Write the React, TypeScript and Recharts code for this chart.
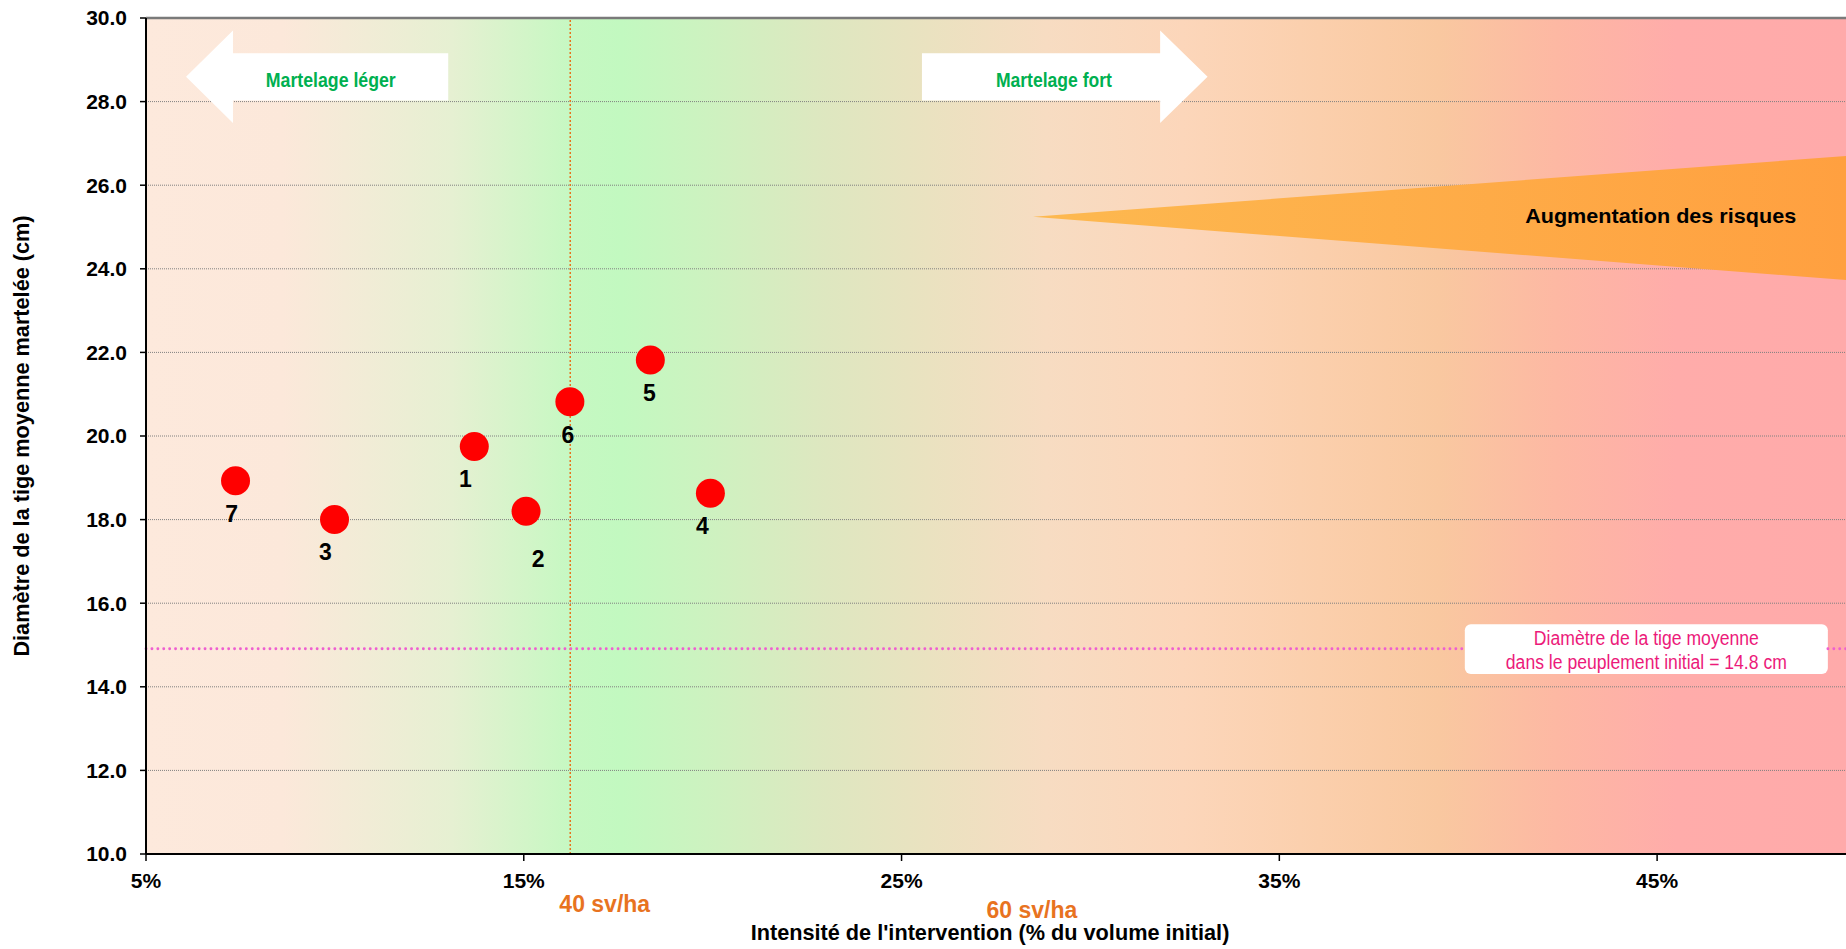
import React from 'react';
import {
  ScatterChart,
  Scatter,
  XAxis,
  YAxis,
  CartesianGrid,
  ReferenceLine,
  ReferenceArea,
} from 'recharts';

// ---------- data ----------
const pointIds = ['1', '2', '3', '4', '5', '6', '7'];
const intensityPct = [13.69, 15.06, 9.99, 19.94, 18.35, 16.22, 7.37];
const diameterCm = [19.75, 18.2, 18.0, 18.63, 21.82, 20.82, 18.93];

const xTicks = [5, 15, 25, 35, 45];
const yTicks = [10, 12, 14, 16, 18, 20, 22, 24, 26, 28, 30];
const xDomain: [number, number] = [5, 50];
const yDomain: [number, number] = [10, 30];

const initialDiameterLevel = 14.91; // where the dotted line sits in the picture
const initialDiameterText = '14.8';
const sv40Position = 16.23;
const sv60Position = 28.45;

const data = pointIds.map((id, i) => ({ id, x: intensityPct[i], y: diameterCm[i] }));

// ---------- styles ----------
const FONT = "'Liberation Sans', Arial, Helvetica, sans-serif";
const NARROW = "'Liberation Sans Narrow', 'Arial Narrow', 'Liberation Sans', sans-serif";

// label offsets (text centre-x, baseline) relative to each point
const labelOffset: Record<string, [number, number]> = {
  '1': [-9, 41],
  '2': [12, 56],
  '3': [-9, 40],
  '4': [-8, 41],
  '5': [-1, 41],
  '6': [-2, 41],
  '7': [-4, 41],
};

const renderPoint = (p: any) => {
  const { cx, cy, payload } = p;
  const off = labelOffset[payload.id] || [0, 41];
  return (
    <g>
      <circle cx={cx} cy={cy} r={14.5} fill="#ff0000" />
      <text
        x={cx + off[0]}
        y={cy + off[1]}
        textAnchor="middle"
        fontFamily={FONT}
        fontWeight={700}
        fontSize={23}
        fill="#000"
      >
        {payload.id}
      </text>
    </g>
  );
};

const pts = (arr: number[][]) => arr.map((q) => q.join(',')).join(' ');

const LeftArrowShape = (p: any) => {
  const { x, y, width: w, height: h } = p;
  const hb = x + w * 0.179;
  const bt = y + h * 0.245;
  const bb = y + h * 0.758;
  return (
    <g>
      <polygon
        points={pts([[x, y + h / 2], [hb, y], [hb, bt], [x + w, bt], [x + w, bb], [hb, bb], [hb, y + h]])}
        fill="#ffffff"
      />
      <text
        x={x + w * 0.552}
        y={y + h * 0.613}
        textAnchor="middle"
        fontFamily={NARROW}
        fontWeight={700}
        fontSize={21}
        fill="#00b050"
        textLength={130}
        lengthAdjust="spacingAndGlyphs"
      >
        Martelage léger
      </text>
    </g>
  );
};

const RightArrowShape = (p: any) => {
  const { x, y, width: w, height: h } = p;
  const hb = x + w * 0.834;
  const bt = y + h * 0.245;
  const bb = y + h * 0.758;
  return (
    <g>
      <polygon
        points={pts([[x, bt], [hb, bt], [hb, y], [x + w, y + h / 2], [hb, y + h], [hb, bb], [x, bb]])}
        fill="#ffffff"
      />
      <text
        x={x + w * 0.462}
        y={y + h * 0.613}
        textAnchor="middle"
        fontFamily={NARROW}
        fontWeight={700}
        fontSize={21}
        fill="#00b050"
        textLength={116}
        lengthAdjust="spacingAndGlyphs"
      >
        Martelage fort
      </text>
    </g>
  );
};

const RiskShape = (p: any) => {
  const { x, y, width: w, height: h } = p;
  return (
    <g>
      <polygon points={pts([[x, y + h * 0.49], [x + w, y], [x + w, y + h]])} fill="url(#riskGrad)" />
      <text
        x={x + w * 0.772}
        y={y + h * 0.543}
        textAnchor="middle"
        fontFamily={FONT}
        fontWeight={700}
        fontSize={21}
        fill="#000"
        textLength={271}
        lengthAdjust="spacingAndGlyphs"
      >
        Augmentation des risques
      </text>
    </g>
  );
};

const InitialBoxShape = (p: any) => {
  const { x, y, width: w, height: h } = p;
  const cx = x + w / 2;
  return (
    <g>
      <rect x={x} y={y} width={w} height={h} rx={6} ry={6} fill="#ffffff" />
      <text
        x={cx}
        y={y + h * 0.41}
        textAnchor="middle"
        fontFamily={NARROW}
        fontSize={20}
        fill="#ec1a7a"
        textLength={225}
        lengthAdjust="spacingAndGlyphs"
      >
        Diamètre de la tige moyenne
      </text>
      <text
        x={cx}
        y={y + h * 0.905}
        textAnchor="middle"
        fontFamily={NARROW}
        fontSize={20}
        fill="#ec1a7a"
        textLength={281}
        lengthAdjust="spacingAndGlyphs"
      >
        {`dans le peuplement initial = ${initialDiameterText} cm`}
      </text>
    </g>
  );
};

const XTitle = (p: any) => {
  const vb = p.viewBox || {};
  return (
    <text
      x={vb.x + vb.width / 2 - 6}
      y={vb.y + 86}
      textAnchor="middle"
      fontFamily={FONT}
      fontWeight={700}
      fontSize={21.7}
      fill="#000"
    >
      Intensité de l'intervention (% du volume initial)
    </text>
  );
};

const YTitle = (p: any) => {
  const vb = p.viewBox || {};
  const cx = vb.x + 29;
  const cy = vb.y + vb.height / 2;
  return (
    <text
      x={cx}
      y={cy}
      transform={`rotate(-90, ${cx}, ${cy})`}
      textAnchor="middle"
      fontFamily={FONT}
      fontWeight={700}
      fontSize={21.7}
      fill="#000"
    >
      Diamètre de la tige moyenne martelée (cm)
    </text>
  );
};

const svLabel = (text: string, dx: number, baseline: number) => (p: any) => {
  const vb = p.viewBox || {};
  return (
    <text
      x={vb.x + dx}
      y={vb.y + vb.height + baseline}
      textAnchor="middle"
      fontFamily={FONT}
      fontWeight={700}
      fontSize={23}
      fill="#e8731f"
    >
      {text}
    </text>
  );
};

export default function App() {
  return (
    <div style={{ width: 1846, height: 949, background: '#fff' }}>
      <style>{'body{margin:0;overflow:hidden}'}</style>
      <ScatterChart width={1846} height={949} margin={{ top: 18, right: 0, bottom: 65, left: 0 }}>
        <defs>
          <linearGradient id="bgGrad" x1="0" y1="0" x2="1" y2="0">
            <stop offset="0" stopColor="#fde9dc" />
            <stop offset="0.08" stopColor="#fce8da" />
            <stop offset="0.18" stopColor="#e6f0d2" />
            <stop offset="0.25" stopColor="#c6f8c2" />
            <stop offset="0.28" stopColor="#c2f9c0" />
            <stop offset="0.33" stopColor="#cdf2c0" />
            <stop offset="0.40" stopColor="#dee7c0" />
            <stop offset="0.46" stopColor="#eae2c0" />
            <stop offset="0.53" stopColor="#f7dcc2" />
            <stop offset="0.61" stopColor="#fcd6ba" />
            <stop offset="0.69" stopColor="#fbcfac" />
            <stop offset="0.76" stopColor="#f9c8a0" />
            <stop offset="0.83" stopColor="#fdb8a3" />
            <stop offset="0.90" stopColor="#ffacaa" />
            <stop offset="1" stopColor="#ffaaaa" />
          </linearGradient>
          <linearGradient id="riskGrad" x1="0" y1="0" x2="1" y2="0">
            <stop offset="0" stopColor="#fdb950" />
            <stop offset="1" stopColor="#ffa040" />
          </linearGradient>
        </defs>
        <CartesianGrid
          vertical={false}
          stroke="#808080"
          strokeDasharray="1 1"
          fill="url(#bgGrad)"
          fillOpacity={1}
        />
        <XAxis
          type="number"
          dataKey="x"
          domain={xDomain}
          ticks={xTicks}
          tickFormatter={(v: number) => `${v}%`}
          height={30}
          axisLine={{ stroke: '#000', strokeWidth: 2 }}
          tickLine={{ stroke: '#000', strokeWidth: 1.5 }}
          tickSize={7}
          tickMargin={12}
          tick={{ fill: '#000', fontSize: 21, fontWeight: 700, fontFamily: FONT }}
          label={XTitle}
        />
        <YAxis
          type="number"
          dataKey="y"
          domain={yDomain}
          ticks={yTicks}
          tickFormatter={(v: number) => v.toFixed(1)}
          width={146}
          axisLine={{ stroke: '#000', strokeWidth: 2 }}
          tickLine={{ stroke: '#000', strokeWidth: 1.5 }}
          tickSize={6}
          tickMargin={13}
          tick={{ fill: '#000', fontSize: 21, fontWeight: 700, fontFamily: FONT }}
          label={YTitle}
        />
        <ReferenceLine y={30} stroke="#7a7a7a" strokeWidth={2.5} />
        <ReferenceLine
          x={sv40Position}
          stroke="#e8731f"
          strokeWidth={1.5}
          strokeDasharray="2 2"
          label={svLabel('40 sv/ha', 34.5, 58)}
        />
        <ReferenceLine
          x={sv60Position}
          stroke="none"
          strokeOpacity={0}
          label={svLabel('60 sv/ha', 0, 64)}
        />
        <ReferenceLine
          segment={[
            { x: 5, y: initialDiameterLevel },
            { x: 39.91, y: initialDiameterLevel },
          ]}
          stroke="#ee5fd0"
          strokeWidth={2.8}
          strokeDasharray="0.1 5.8"
          strokeLinecap="round"
        />
        <ReferenceLine
          segment={[
            { x: 49.52, y: initialDiameterLevel },
            { x: 50, y: initialDiameterLevel },
          ]}
          stroke="#ee5fd0"
          strokeWidth={2.8}
          strokeDasharray="0.1 5.8"
          strokeLinecap="round"
        />
        <ReferenceArea x1={6.06} x2={13.0} y1={27.49} y2={29.7} shape={LeftArrowShape} />
        <ReferenceArea x1={25.54} x2={33.1} y1={27.49} y2={29.7} shape={RightArrowShape} />
        <ReferenceArea x1={28.48} x2={50} y1={23.73} y2={26.7} shape={RiskShape} />
        <ReferenceArea x1={39.91} x2={49.52} y1={14.306} y2={15.495} shape={InitialBoxShape} />
        <Scatter data={data} isAnimationActive={false} shape={renderPoint} />
      </ScatterChart>
    </div>
  );
}
